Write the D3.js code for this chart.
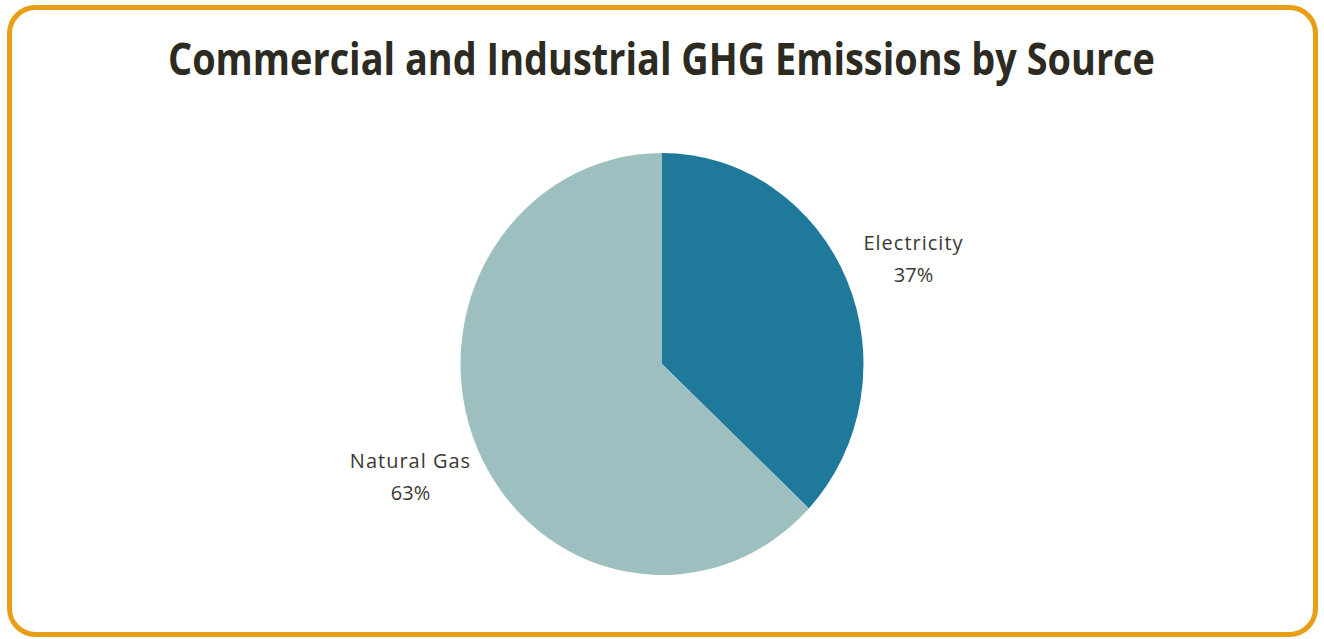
<!DOCTYPE html>
<style>
  body { margin: 0; background: #fff; }
  svg { display: block; }
  .title { font-family: 'Open Sans', sans-serif; font-weight: bold; fill: #2d2a22; }
  .lbl { font-family: 'Open Sans', sans-serif; font-size: 20px; fill: #3b3833; }
</style>
<body>
</body>
<script src="https://cdn.jsdelivr.net/npm/d3@7"></script>
<script>
  const W = 1324, H = 639;
  const title = 'Commercial and Industrial GHG Emissions by Source';
  const sources = ['Electricity', 'Natural Gas'];
  const shares = [37, 63];
  const colors = ['#1f799a', '#9dbfbf'];

  const svg = d3.select('body').append('svg')
    .attr('width', W).attr('height', H);

  // stray caption fragment at top-left of the crop
  svg.append('text')
    .attr('x', 31).attr('y', -3)
    .style('font-family', 'Liberation Serif').style('font-size', '14px')
    .style('font-weight', 'bold').attr('fill', '#2f5597')
    .text('g');

  // frame
  svg.append('rect')
    .attr('x', 9.5).attr('y', 7.5)
    .attr('width', 1306).attr('height', 627)
    .attr('rx', 26).attr('ry', 26)
    .attr('fill', 'none').attr('stroke', '#e89e17').attr('stroke-width', 5);

  svg.append('text').attr('class', 'title')
    .attr('x', 168).attr('y', 75)
    .style('font-size', '45px')
    .attr('textLength', 987).attr('lengthAdjust', 'spacingAndGlyphs')
    .text(title);

  const cx = 662, cy = 364, rx = 201.5, ry = 211;
  const data = sources.map((s, i) => ({name: s, value: shares[i], color: colors[i]}));
  const pie = d3.pie().sort(null).value(d => d.value);
  const arc = d3.arc().innerRadius(0).outerRadius(rx);
  const arcs = pie(data);

  const g = svg.append('g')
    .attr('transform', `translate(${cx},${cy}) scale(1,${ry / rx})`);
  g.selectAll('path')
    .data(arcs)
    .join('path')
    .attr('d', arc)
    .attr('fill', d => d.data.color);

  // labels positioned outside the slices
  const labelArc = d3.arc().innerRadius(rx * 1.36).outerRadius(rx * 1.36);
  const lg = svg.append('g').attr('transform', `translate(${cx},${cy})`);
  const lab = lg.selectAll('text')
    .data(arcs)
    .join('text')
    .attr('class', 'lbl')
    .attr('text-anchor', 'middle')
    .attr('transform', d => {
      const [x, y] = labelArc.centroid(d);
      return `translate(${x},${y})`;
    });
  lab.append('tspan').attr('x', 0).attr('dy', '-0.25em')
    .style('letter-spacing', '1px')
    .text(d => d.data.name);
  lab.append('tspan').attr('x', 0).attr('dy', '1.6em')
    .text(d => d.data.value + '%');
</script>
